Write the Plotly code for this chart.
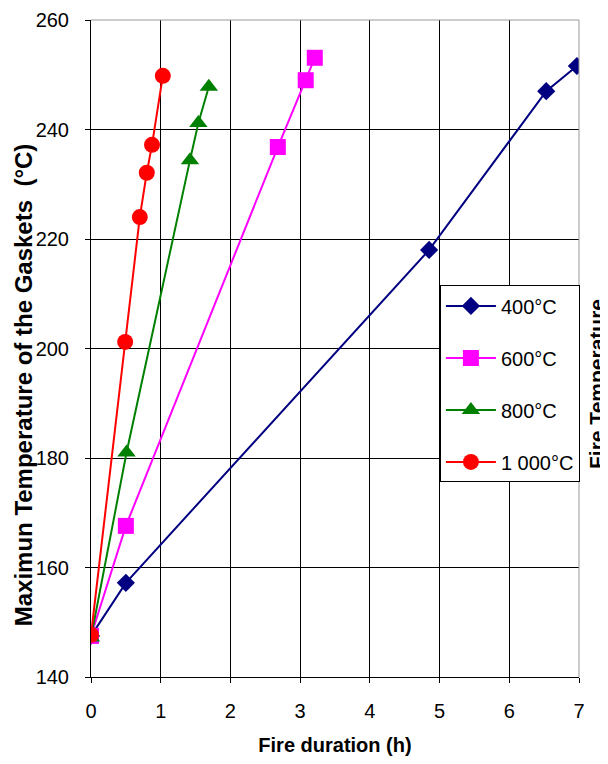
import plotly.graph_objects as go

x400 = [0, 0.5, 4.85, 6.53, 6.97]
y400 = [147.5, 157.2, 218.0, 247.0, 251.6]
x600 = [0, 0.5, 2.68, 3.08, 3.21]
y600 = [147.5, 167.6, 236.8, 249.0, 253.1]
x800 = [0, 0.51, 1.42, 1.54, 1.69]
y800 = [147.2, 181.0, 234.4, 241.2, 247.8]
x1000 = [0, 0.49, 0.70, 0.80, 0.875, 1.03]
y1000 = [147.7, 201.2, 224.0, 232.1, 237.2, 249.8]

series = [
    ("400°C", x400, y400, "#000080", "diamond", 14),
    ("600°C", x600, y600, "#FF00FF", "square", 16),
    ("800°C", x800, y800, "#008000", "triangle-up", 16),
    ("1 000°C", x1000, y1000, "#FF0000", "circle", 16),
]

fig = go.Figure()
for i, (name, xs, ys, col, sym, sz) in enumerate(series):
    fig.add_trace(go.Scatter(
        x=xs, y=ys, name=name, mode="lines+markers",
        line=dict(color=col, width=2),
        marker=dict(symbol=sym, size=sz, color=col),
        legendgroup=str(i),
    ))

font = "Liberation Sans, Arial, sans-serif"
fig.update_layout(
    width=600, height=748,
    margin=dict(l=83, r=29, t=12, b=79, autoexpand=False),
    paper_bgcolor="white", plot_bgcolor="white",
    font=dict(family=font, size=20, color="black"),
    showlegend=True,
    legend=dict(
        x=0.715, y=0.596, xanchor="left", yanchor="top",
        bordercolor="black", borderwidth=1, bgcolor="white",
        font=dict(size=20), traceorder="grouped", tracegroupgap=23,
        itemwidth=50,
    ),
    xaxis=dict(
        range=[0, 7], dtick=1, showgrid=True, gridcolor="black", gridwidth=1,
        showline=True, linecolor="black", linewidth=1, automargin=False,
        ticks="outside", ticklen=5, tickcolor="black", zeroline=False,
        tickfont=dict(size=20), ticklabelstandoff=11,
        title=dict(text="<b>Fire duration (h)</b>", font=dict(size=20), standoff=17),
    ),
    yaxis=dict(
        range=[140, 260], dtick=20, showgrid=True, gridcolor="black", gridwidth=1,
        showline=True, linecolor="black", linewidth=1, automargin=False,
        ticks="outside", ticklen=5, tickcolor="black", zeroline=False,
        tickfont=dict(size=20), ticklabelstandoff=12,
    ),
    shapes=[
        dict(type="line", xref="paper", yref="paper", x0=0, x1=1, y0=1, y1=1,
             line=dict(color="#999999", width=1)),
        dict(type="line", xref="paper", yref="paper", x0=1, x1=1, y0=0, y1=1,
             line=dict(color="#999999", width=1)),
    ],
    annotations=[
        dict(text="<b>Maximun Temperature of the Gaskets  (°C)</b>", xref="paper", yref="paper",
             x=0.0, y=0.444, xanchor="center", yanchor="middle", xshift=-68,
             textangle=-90, showarrow=False, font=dict(size=24)),
        dict(text="<b>Fire Temperature</b>", xref="paper", yref="paper",
             x=1.0, y=0.446, xanchor="center", yanchor="middle", xshift=18,
             textangle=-90, showarrow=False, font=dict(size=21)),
    ],
)

fig.write_html("out.html")
